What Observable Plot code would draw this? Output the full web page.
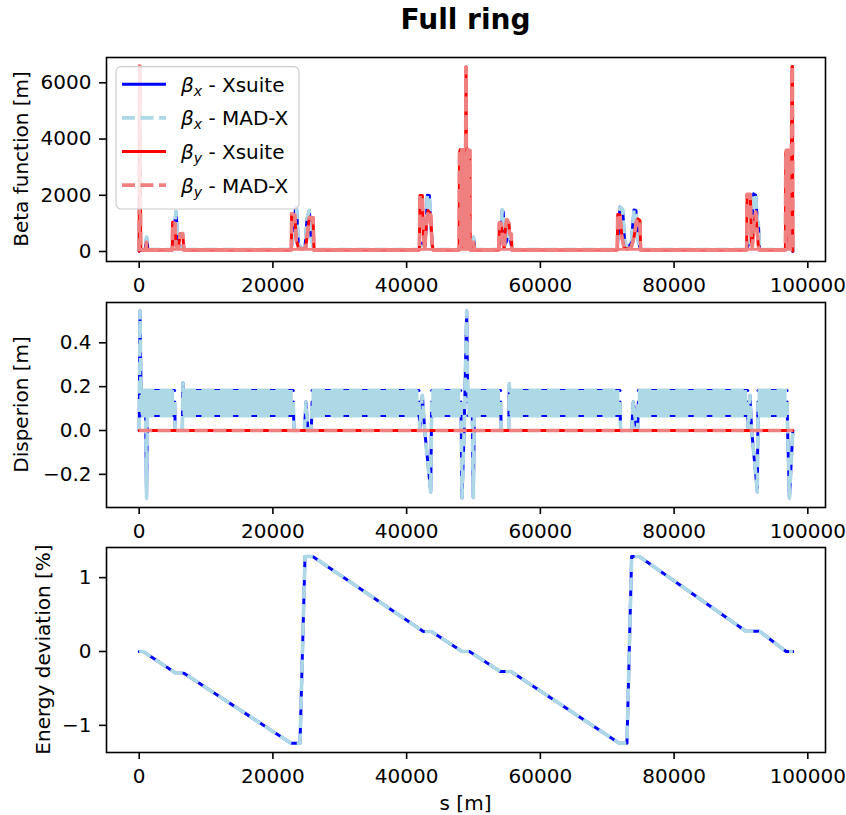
<!DOCTYPE html>
<html><head><meta charset="utf-8">
<script src="https://cdn.jsdelivr.net/npm/d3@7"></script>
<script src="https://cdn.jsdelivr.net/npm/@observablehq/plot@0.6"></script>
<style>
body{margin:0;background:white;}
#fig{position:relative;width:846px;height:815px;background:white;font-family:"DejaVu Sans";overflow:hidden;}
#title{position:absolute;left:315.5px;width:300px;top:0;height:40px;line-height:40px;text-align:center;font-weight:bold;font-size:28px;font-family:"DejaVu Sans";}
</style></head><body>
<div id="fig"><div id="title">Full ring</div></div>
<script>
// ---------------- data ----------------
const sRange = [-4888, 102644];
const xTicks = [0, 20000, 40000, 60000, 80000, 100000];
const betaTicks = [0, 2000, 4000, 6000];
const dispTicks = [-0.2, 0, 0.2, 0.4];
const deltaTicks = [-1, 0, 1];

// beta_x [s (m), beta (m)]
const betaX = [
 [0,5],[60,1500],[200,70],
 [900,70],[1100,510],[1300,70],
 [4950,70],[5100,500],[5500,1420],[5650,900],[5800,100],[6100,120],[6300,200],[6700,70],
 [22750,70],[23000,700],[23400,1580],[23550,1500],[23800,300],[24200,100],[24800,150],[25100,1170],[25450,1460],[25700,500],[26150,70],
 [41900,70],[42300,300],[42700,200],[42900,800],[43100,2000],[43400,1990],[43600,1000],[43900,70],
 [47850,70],[48300,400],[48880,1200],[49300,400],[49520,70],
 [49800,70],[50000,510],[50200,70],
 [53800,70],[54000,400],[54300,1480],[54450,1400],[54650,200],[55000,400],[55200,1000],[55400,600],[55750,70],
 [71500,70],[71900,1580],[72300,1500],[72600,400],[73000,100],[73600,300],[74000,1480],[74300,1450],[74600,400],[75000,70],
 [90850,70],[91200,300],[91500,300],[91700,1200],[91900,2050],[92200,2000],[92450,1100],[92600,1000],[92800,70],
 [96650,70],[97200,400],[97600,1500],[97756,5]
];
// beta_y [s (m), beta (m)]
const betaY = [
 [0,5],[50,6600],[110,6590],[230,60],
 [1000,50],[1100,330],[1200,50],
 [4950,50],[5000,1040],[5350,1000],[5500,200],[5700,120],[5900,150],[6100,620],[6500,640],[6700,50],
 [22750,50],[22800,1340],[23250,1300],[23500,400],[23800,150],[24200,80],[24900,120],[25300,900],[25450,1220],[26000,1200],[26150,50],
 [41900,50],[42000,1990],[42350,1990],[42500,600],[42700,100],[42900,800],[43200,1460],[43600,1300],[43800,300],[43950,50],
 [47850,50],[47900,3500],[48000,3620],[48100,100],[48250,3620],[48400,100],[48550,3620],[48700,100],[48820,3620],[48880,6560],[48940,3620],[49000,100],[49150,3620],[49300,100],[49450,3600],[49520,50],
 [49850,50],[50000,330],[50150,50],
 [53800,50],[53860,1010],[54150,1000],[54400,300],[54600,100],[54800,900],[55000,1130],[55300,1000],[55400,630],[55650,620],[55750,50],
 [71500,50],[71570,1320],[71900,1300],[72200,500],[72500,150],[73000,80],[73600,150],[74000,500],[74400,1100],[74600,1160],[74900,1100],[75000,50],
 [90850,50],[90920,2030],[91400,2030],[91550,400],[91700,150],[91900,900],[92200,1400],[92400,800],[92600,200],[92800,50],
 [96650,50],[96700,3500],[96800,3600],[96950,100],[97100,3600],[97250,100],[97400,3600],[97550,3600],[97640,6580],[97700,6580],[97756,5]
];
// arc oscillation envelope of beta (m): [s, min, max]
const betaArcBand = [[0,10,110],[97756,10,110]];

// dispersion: arcs where D_x oscillates densely [s start, s end]
const dispArcs = [[300,5300],[6550,23050],[25850,41850],[43750,48100],[49150,54050],[55450,71900],[74650,91000],[92550,96900]];
const dispArcMin = 0.068, dispArcMax = 0.183;
// D_x in insertions [s, D (m)]
const dxSegments = [
 [[0,0],[120,0.545],[300,0.13]],
 [[950,0.13],[1100,-0.308],[1250,0.13]],
 [[5300,0.13],[5400,0],[6450,0],[6550,0.217],[6700,0.13]],
 [[23050,0.13],[23150,0],[24700,0],[24950,0.13],[25250,0],[25750,0],[25850,0.13]],
 [[41850,0.13],[41950,0],[42350,0.16],[42700,0],[43600,-0.28],[43750,0.13]],
 [[48100,0.13],[48180,0],[48280,-0.308],[48600,0],[48980,0.545],[49150,0.13]],
 [[49800,0.13],[49970,-0.306],[50150,0.13]],
 [[54050,0.13],[54150,0],[55250,0],[55360,0.212],[55450,0.13]],
 [[71900,0.13],[72000,0],[73650,0],[73900,0.13],[74400,0],[74550,0],[74650,0.13]],
 [[91000,0.13],[91080,0],[91350,0.16],[91600,0],[92450,-0.28],[92550,0.13]],
 [[96900,0.13],[96980,0],[97250,-0.308],[97756,0]]
];
const dyLine = [[0,0],[97756,0]];

// energy deviation [s, delta (%)]
const delta = [
 [0,0],[600,0],[5500,-0.294],[6700,-0.294],[22700,-1.243],[24050,-1.243],[24800,1.287],[25950,1.287],
 [42500,0.27],[43700,0.27],[48300,0.0],[49400,0.0],[54000,-0.27],[55600,-0.27],[71800,-1.243],[72950,-1.243],
 [73650,1.287],[74800,1.287],[90750,0.275],[92750,0.275],[96750,0],[97756,0]
];

// ---------------- styles ----------------
const BLUE = "#0000ff", LBLUE = "#add8e6", RED = "#ff0000", LCORAL = "#f08080";
const W_SOLID = 3, W_DASH = 3.6, DASH = "13,5.5";
const FONT = "DejaVu Sans";

const sx = d => d[0], sy = d => d[1];
const solid = (data, color, extra = {}) => Plot.line(data, {x: sx, y: sy, stroke: color, strokeWidth: W_SOLID, ...extra});
const dashed = (data, color, extra = {}) => Plot.line(data, {x: sx, y: sy, stroke: color, strokeWidth: W_DASH, strokeDasharray: DASH, strokeLinecap: "butt", ...extra});

const fig = document.getElementById("fig");

function panel({top, height, mt, mb, yDomain, yTicks, yFmt, marks, ylabel, ylabelX}) {
  const svg = Plot.plot({
    width: 846, height,
    marginLeft: 106, marginRight: 21, marginTop: mt, marginBottom: mb,
    style: {fontFamily: FONT, fontSize: "20px", color: "black", background: "white", overflow: "visible"},
    x: {domain: sRange},
    y: {domain: yDomain},
    marks: [
      ...marks,
      Plot.frame({stroke: "black", strokeWidth: 1.6}),
      Plot.axisX({ticks: xTicks, tickSize: 7, tickPadding: 9, tickFormat: d => String(d), label: null, strokeWidth: 1.6}),
      Plot.axisY({ticks: yTicks, tickSize: 7, tickPadding: 8, tickFormat: yFmt, label: null, strokeWidth: 1.6})
    ]
  });
  svg.style.position = "absolute";
  svg.style.left = "0px";
  svg.style.top = top + "px";
  const frameMid = mt + (height - mt - mb) / 2;
  d3.select(svg).append("text")
    .attr("transform", `translate(${ylabelX},${frameMid}) rotate(-90)`)
    .attr("text-anchor", "middle").attr("font-size", 20).attr("font-family", FONT).attr("fill", "black")
    .text(ylabel);
  fig.appendChild(svg);
  return svg;
}

// ---- top: beta functions ----
const svg1 = panel({
  top: 40, height: 260, mt: 17, mb: 39,
  yDomain: [-355.7, 6900], yTicks: betaTicks, yFmt: d => String(d),
  ylabel: "Beta function [m]", ylabelX: 28,
  marks: [
    solid(betaX, BLUE),
    dashed(betaX, LBLUE),
    solid(betaY, RED),
    dashed(betaY, LCORAL),
    Plot.areaY(betaArcBand, {x: d => d[0], y1: d => d[1], y2: d => d[2], fill: LCORAL})
  ]
});

// legend
{
  const g = d3.select(svg1).append("g").attr("font-family", FONT).attr("text-anchor", "start");
  g.append("rect").attr("x", 116).attr("y", 26.7).attr("width", 183).attr("height", 142.3).attr("rx", 5)
    .attr("fill", "white").attr("fill-opacity", 0.8).attr("stroke", "#cccccc").attr("stroke-width", 1.2);
  const entries = [
    {sub: "x", name: "Xsuite", color: BLUE, dash: false},
    {sub: "x", name: "MAD-X", color: LBLUE, dash: true},
    {sub: "y", name: "Xsuite", color: RED, dash: false},
    {sub: "y", name: "MAD-X", color: LCORAL, dash: true}
  ];
  entries.forEach((e, i) => {
    const y = 44.3 + i * 33.6;
    const l = g.append("line").attr("x1", 122).attr("x2", 166).attr("y1", y).attr("y2", y)
      .attr("stroke", e.color).attr("stroke-width", e.dash ? W_DASH : W_SOLID);
    if (e.dash) l.attr("stroke-dasharray", DASH);
    const t = g.append("text").attr("x", 181).attr("y", y + 7.4).attr("font-size", 20)
      .attr("fill", "black").attr("text-anchor", "start").style("white-space", "pre");
    t.append("tspan").attr("font-style", "italic").text("β");
    t.append("tspan").attr("font-style", "italic").attr("font-size", 14).attr("dy", 4).text(e.sub);
    t.append("tspan").attr("dy", -4).text("\u00a0-\u00a0" + e.name);
  });
}

// ---- middle: dispersion ----
const dxTable = dxSegments.flatMap((seg, i) => seg.map(p => [p[0], p[1], i]));
const arcTable = dispArcs.flatMap((a, i) => [[a[0], i], [a[1], i]]);
panel({
  top: 300, height: 245, mt: 2, mb: 38,
  yDomain: [-0.3512, 0.5838], yTicks: dispTicks, yFmt: d3.format(".1f"),
  ylabel: "Disperion [m]", ylabelX: 28,
  marks: [
    solid(dxTable, BLUE, {z: d => d[2]}),
    Plot.line(arcTable, {x: d => d[0], y: d => dispArcMax, z: d => d[1], stroke: BLUE, strokeWidth: W_SOLID}),
    Plot.line(arcTable, {x: d => d[0], y: d => dispArcMin, z: d => d[1], stroke: BLUE, strokeWidth: W_SOLID}),
    dashed(dxTable, LBLUE, {z: d => d[2]}),
    Plot.areaY(arcTable, {x: d => d[0], y1: d => dispArcMin, y2: d => dispArcMax, z: d => d[1], fill: LBLUE}),
    Plot.line(arcTable, {x: d => d[0], y: d => dispArcMax, z: d => d[1], stroke: LBLUE, strokeWidth: W_DASH, strokeDasharray: DASH, strokeLinecap: "butt"}),
    Plot.line(arcTable, {x: d => d[0], y: d => dispArcMin, z: d => d[1], stroke: LBLUE, strokeWidth: W_DASH, strokeDasharray: DASH, strokeLinecap: "butt"}),
    solid(dyLine, RED),
    dashed(dyLine, LCORAL)
  ]
});

// ---- bottom: energy deviation ----
const svg3 = panel({
  top: 545, height: 270, mt: 2, mb: 63,
  yDomain: [-1.3677, 1.408], yTicks: deltaTicks, yFmt: d3.format("d"),
  ylabel: "Energy deviation [%]", ylabelX: 49.5,
  marks: [
    solid(delta, BLUE),
    dashed(delta, LBLUE)
  ]
});
d3.select(svg3).append("text").attr("x", 465.5).attr("y", 265).attr("text-anchor", "middle")
  .attr("font-size", 20).attr("font-family", FONT).attr("fill", "black").text("s [m]");
</script>
</body></html>
